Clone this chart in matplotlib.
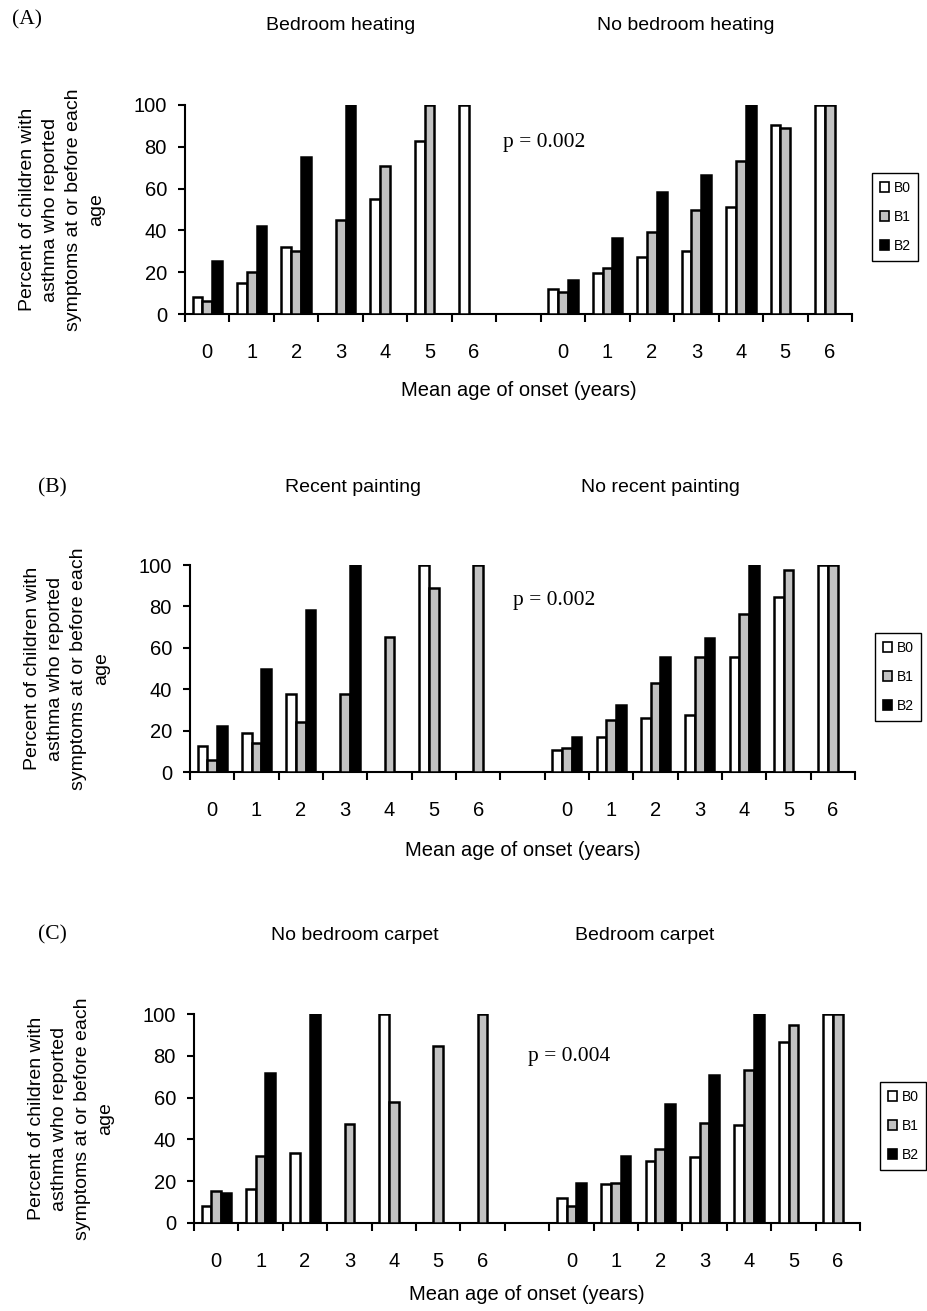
import numpy as np
import matplotlib
matplotlib.use('Agg')
import matplotlib.pyplot as plt
from matplotlib.patches import Patch

plt.rcParams['font.family'] = ['Liberation Sans', 'DejaVu Sans']

nan = np.nan

# 年龄（两组共用）
ages = ['0', '1', '2', '3', '4', '5', '6']
series_names = ['B0', 'B1', 'B2']
ylabel_text = 'Percent of children with\nasthma who reported\nsymptoms at or before each\nage'
xlabel_text = 'Mean age of onset (years)'

# (A) bedroom heating
heat_b0 = [8, 15, 32, nan, 55, 83, 100]
heat_b1 = [6, 20, 30, 45, 71, 100, nan]
heat_b2 = [25.5, 42, 75, 100, nan, nan, nan]
noheat_b0 = [12, 19.5, 27.5, 30, 51, 90.5, 100]
noheat_b1 = [10.5, 22, 39, 50, 73, 89, 100]
noheat_b2 = [16.5, 36.5, 58.5, 66.5, 100, nan, nan]

# (B) painting
paint_b0 = [12.5, 19, 37.5, nan, nan, 100, nan]
paint_b1 = [6, 14, 24, 37.5, 65, 89, 100]
paint_b2 = [22, 50, 78.5, 100, nan, nan, nan]
nopaint_b0 = [10.5, 17, 26, 27.5, 55.5, 84.5, 100]
nopaint_b1 = [11.5, 25, 43, 55.5, 76.5, 97.5, 100]
nopaint_b2 = [17, 32.5, 55.5, 64.5, 100, nan, nan]

# (C) carpet
nocarpet_b0 = [8, 16.5, 33.5, nan, 100, nan, nan]
nocarpet_b1 = [15.5, 32, nan, 47.5, 58, 84.5, 100]
nocarpet_b2 = [14.5, 72, 100, nan, nan, nan, nan]
carpet_b0 = [12, 18.5, 29.5, 31.5, 47, 86.5, 100]
carpet_b1 = [8, 19, 35.5, 48, 73, 94.5, 100]
carpet_b2 = [19, 32, 57, 71, 100, nan, nan]

W, H = 927, 1311
fig = plt.figure(figsize=(W / 100, H / 100), dpi=100)

colors = ['white', '#c2c2c2', 'black']
bw = 0.22


def px(x, y):
    return x / W, 1 - y / H


def panel(rect, left, right, tag, titles, ptext, xlab_y):
    l, r, t, b = rect
    ax = fig.add_axes([l / W, 1 - b / H, (r - l) / W, (b - t) / H])
    pos_left = np.arange(7)
    pos_right = np.arange(7) + 8
    for k in range(3):
        for pos, vals in ((pos_left, left[k]), (pos_right, right[k])):
            vals = np.array(vals, dtype=float)
            m = ~np.isnan(vals)
            ax.bar(pos[m] + (k - 1) * bw, vals[m], width=bw, color=colors[k],
                   edgecolor='black', linewidth=1.8, zorder=3)
    ax.set_xlim(-0.5, 14.5)
    ax.set_ylim(0, 100)
    ax.set_yticks(range(0, 101, 20))
    ax.set_xticks(list(pos_left) + list(pos_right))
    ax.set_xticklabels(ages + ages)
    ax.set_xticks(np.arange(-0.5, 15, 1), minor=True)
    ax.tick_params(axis='x', which='major', length=0, pad=21, labelsize=14.5)
    ax.tick_params(axis='x', which='minor', length=6, width=1.5)
    ax.tick_params(axis='y', length=5, width=1.5, pad=8, labelsize=14.5)
    for s in ('top', 'right'):
        ax.spines[s].set_visible(False)
    for s in ('left', 'bottom'):
        ax.spines[s].set_linewidth(1.5)
    ax.text(0.5, xlab_y, xlabel_text, transform=ax.transAxes, ha='center',
            va='center', fontsize=14.5)
    fig.text(*px(l - 123, (t + b) / 2), ylabel_text, rotation=90, ha='center',
             va='center', multialignment='center', fontsize=14, linespacing=1.45)
    # 面板标签与标题
    fig.text(*px(tag[1], tag[2]), tag[0], family='Liberation Serif', fontsize=15.5,
             ha='left', va='center')
    for txt, cx, cy in titles:
        fig.text(*px(cx, cy), txt, ha='center', va='center', fontsize=14)
    fig.text(*px(ptext[1], ptext[2]), ptext[0], family='Liberation Serif',
             fontsize=15.5, ha='left', va='center')
    handles = [Patch(facecolor=colors[k], edgecolor='black', linewidth=1.2)
               for k in range(3)]
    leg = ax.legend(handles, series_names, loc='upper left',
                    bbox_to_anchor=px(r + 20, t + 68), bbox_transform=fig.transFigure,
                    fontsize=10, handlelength=0.7, handleheight=0.7,
                    handletextpad=0.3, labelspacing=1.1, borderpad=0.55,
                    borderaxespad=0, fancybox=False, framealpha=1)
    leg.get_frame().set_edgecolor('black')
    leg.get_frame().set_linewidth(1.0)
    return ax


panel((185, 852, 105, 314), (heat_b0, heat_b1, heat_b2),
      (noheat_b0, noheat_b1, noheat_b2), ('(A)', 12, 20),
      [('Bedroom heating', 341, 25), ('No bedroom heating', 686, 25)],
      ('p = 0.002', 503, 143), -0.364)

panel((190, 855, 565, 772), (paint_b0, paint_b1, paint_b2),
      (nopaint_b0, nopaint_b1, nopaint_b2), ('(B)', 38, 488),
      [('Recent painting', 353, 488), ('No recent painting', 660, 488)],
      ('p = 0.002', 513, 600), -0.377)

panel((194, 860, 1014, 1223), (nocarpet_b0, nocarpet_b1, nocarpet_b2),
      (carpet_b0, carpet_b1, carpet_b2), ('(C)', 38, 935),
      [('No bedroom carpet', 355, 935), ('Bedroom carpet', 645, 935)],
      ('p = 0.004', 528, 1056), -0.344)

fig.savefig('out.png', dpi=100, facecolor='white')
